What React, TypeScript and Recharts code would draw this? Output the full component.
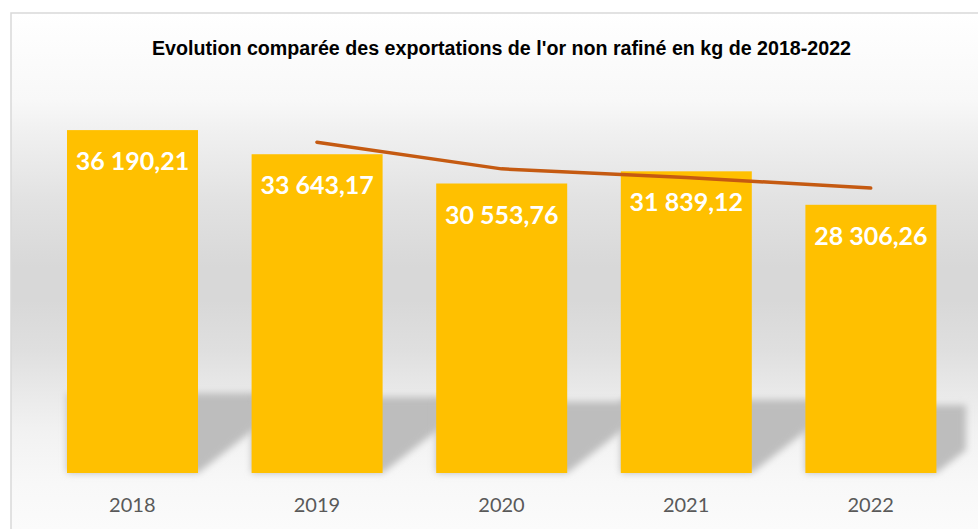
import { Bar, ComposedChart, Line, XAxis, YAxis } from "recharts";

const years = ["2018", "2019", "2020", "2021", "2022"];
const exportsKg = [36190.21, 33643.17, 30553.76, 31839.12, 28306.26];
// 2-period moving average line
const trendKg = [null, 34916.69, 32098.47, 31196.44, 30072.69];

const TITLE = "Evolution comparée des exportations de l'or non rafiné en kg de 2018-2022";

const W = 978;
const H = 529;
const MARGIN = { top: 94, right: 15, left: 40, bottom: 26 };

const data = years.map((year, i) => ({
  year,
  value: exportsKg[i],
  trend: trendKg[i],
}));

const formatFr = (v: number) => {
  const [int, dec] = v.toFixed(2).split(".");
  return int.replace(/\B(?=(\d{3})+(?!\d))/g, " ") + "," + dec;
};

function BarWithShadow(props: any) {
  const { x, y, width, height, index, fill } = props;
  const bottom = y + height;
  const rise = 25 + 0.16 * height;
  const top = bottom - rise;
  const slope = 0.78;
  const right = x + width;
  const reach = rise / slope;
  const clipX = W - MARGIN.right + 3;
  let pts: string;
  if (right + reach > clipX) {
    const d = clipX - right;
    pts = `${x},${top} ${clipX},${top} ${clipX},${bottom - d * slope} ${right},${bottom} ${x},${bottom}`;
  } else {
    pts = `${x},${top} ${right + reach},${top} ${right},${bottom} ${x},${bottom}`;
  }
  return (
    <g>
      <defs>
        <filter id={`shadow-${index}`} x="-30%" y="-60%" width="160%" height="220%">
          <feGaussianBlur stdDeviation="3.5" />
        </filter>
      </defs>
      <polygon points={pts} fill="#bdbdbd" filter={`url(#shadow-${index})`} />
      <rect x={x} y={y} width={width} height={height} fill={fill} />
    </g>
  );
}

function BarLabel(props: any) {
  const { x, y, width, value } = props;
  return (
    <text
      x={x + width / 2}
      y={y + 40}
      textAnchor="middle"
      fill="#ffffff"
      fontFamily="Lato"
      fontWeight={700}
      fontSize={25}
    >
      {formatFr(Number(value))}
    </text>
  );
}

export default function App() {
  return (
    <div style={{ position: "absolute", left: 0, top: 0, width: W, height: H, overflow: "hidden", background: "#ffffff" }}>
      <svg width={W} height={H} style={{ position: "absolute", left: 0, top: 0 }}>
        <defs>
          <linearGradient id="bg" gradientUnits="userSpaceOnUse" x1="0" y1="13" x2="0" y2="529">
            <stop offset="0" stopColor="#ffffff" />
            <stop offset="0.169" stopColor="#f8f8f8" />
            <stop offset="0.233" stopColor="#f0f0f0" />
            <stop offset="0.362" stopColor="#e2e2e2" />
            <stop offset="0.492" stopColor="#d8d8d8" />
            <stop offset="0.556" stopColor="#d8d8d8" />
            <stop offset="0.653" stopColor="#dfdfdf" />
            <stop offset="0.75" stopColor="#ebebeb" />
            <stop offset="0.814" stopColor="#f2f2f2" />
            <stop offset="0.911" stopColor="#f8f8f8" />
            <stop offset="1" stopColor="#fbfbfb" />
          </linearGradient>
        </defs>
        <rect x={11} y={13} width={1000} height={540} fill="url(#bg)" stroke="#d9d9d9" strokeWidth={1.5} />
        <text
          x={501.5}
          y={55}
          textAnchor="middle"
          fontFamily="Liberation Sans"
          fontWeight={700}
          fontSize={19.5}
          fill="#000000"
          textLength={699}
          lengthAdjust="spacingAndGlyphs"
        >
          {TITLE}
        </text>
      </svg>
      <div style={{ position: "absolute", left: 0, top: 0 }}>
        <ComposedChart width={W} height={H} data={data} margin={MARGIN}>
          <XAxis
            dataKey="year"
            axisLine={false}
            tickLine={false}
            height={30}
            tickMargin={19}
            tick={{ fill: "#595959", fontSize: 20, fontFamily: "Lato" }}
          />
          <YAxis hide domain={[0, 40000]} />
          <Bar
            dataKey="value"
            fill="#ffc000"
            barSize={131}
            shape={BarWithShadow}
            label={BarLabel}
            isAnimationActive={false}
          />
          <Line
            dataKey="trend"
            type="linear"
            stroke="#c55a11"
            strokeWidth={3.5}
            strokeLinecap="round"
            strokeLinejoin="round"
            dot={false}
            activeDot={false}
            isAnimationActive={false}
          />
        </ComposedChart>
      </div>
    </div>
  );
}
